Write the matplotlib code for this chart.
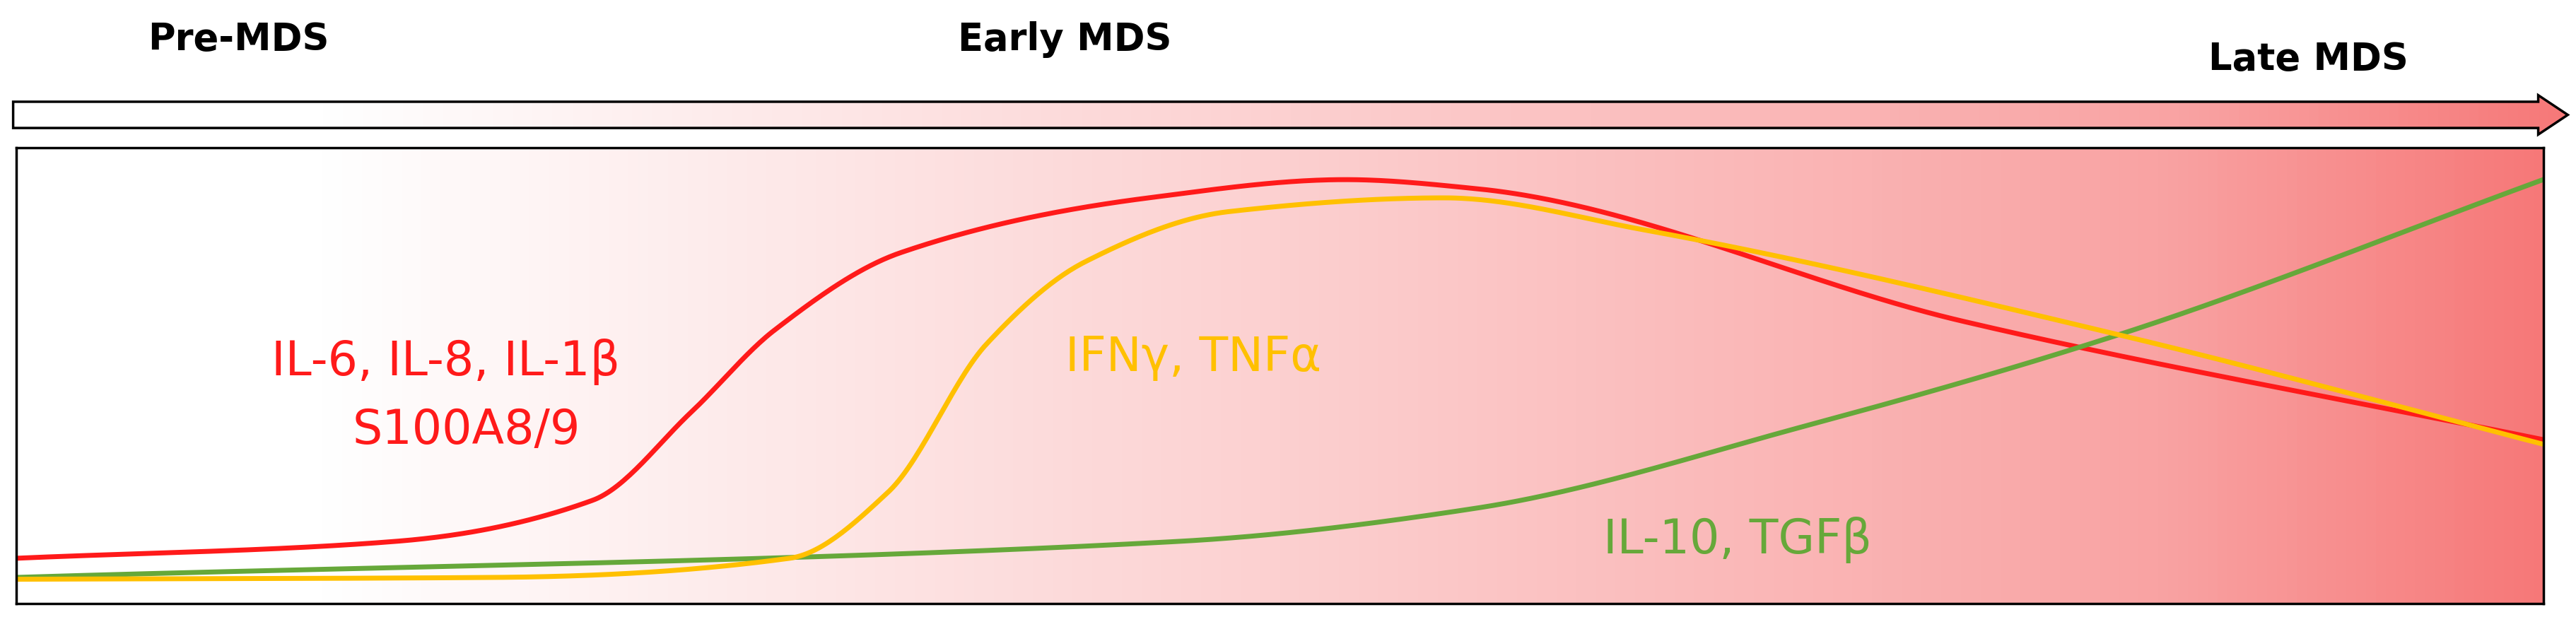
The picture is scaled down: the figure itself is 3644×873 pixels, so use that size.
import numpy as np
import matplotlib.pyplot as plt
from matplotlib.colors import LinearSegmentedColormap
from matplotlib.patches import Polygon

stages = ["Pre-MDS", "Early MDS", "Late MDS"]
red_x = [0, 15, 22.8, 26.7, 30, 35, 44.8, 52.6, 57.8, 77, 100]
red_y = [10, 13.7, 22.7, 42, 60, 77, 89, 93, 91, 62, 36]
yel_x = [0, 18.9, 30.6, 34.5, 38.4, 42.3, 48, 56.5, 64.4, 83.2, 100]
yel_y = [5.4, 5.8, 10, 24.5, 57, 75, 86, 89, 82, 59, 35]
grn_x = [0, 46, 57.8, 70.8, 83.2, 100]
grn_y = [5.8, 13.7, 21, 39, 59, 93]

def pchip(x, y, n=800):
    x = np.asarray(x, float); y = np.asarray(y, float)
    h = np.diff(x); d = np.diff(y) / h
    m = np.zeros_like(y)
    for k in range(1, len(x) - 1):
        if d[k-1] * d[k] > 0:
            w1 = 2*h[k] + h[k-1]; w2 = h[k] + 2*h[k-1]
            m[k] = (w1 + w2) / (w1/d[k-1] + w2/d[k])
    m[0] = d[0]; m[-1] = d[-1]
    xs = np.linspace(x[0], x[-1], n)
    i = np.clip(np.searchsorted(x, xs) - 1, 0, len(h) - 1)
    t = (xs - x[i]) / h[i]
    h00 = 2*t**3 - 3*t**2 + 1; h10 = t**3 - 2*t**2 + t
    h01 = -2*t**3 + 3*t**2; h11 = t**3 - t**2
    ys = h00*y[i] + h10*h[i]*m[i] + h01*y[i+1] + h11*h[i]*m[i+1]
    return xs, ys

fig = plt.figure(figsize=(36.44, 8.73), dpi=100)
cmap = LinearSegmentedColormap.from_list("g", [(0, "#ffffff"), (0.12, "#ffffff"), (0.5, "#fcd0d0"), (0.85, "#f9a3a3"), (1, "#f67878")])
grad = np.linspace(0, 1, 512)[None, :]

ax = fig.add_axes([10/1568, 1-368/376, 1538/1568, 278/376])
ax.imshow(grad, cmap=cmap, extent=[0, 100, 0, 100], aspect="auto", zorder=0)
ax.set_xlim(0, 100); ax.set_ylim(0, 100)
ax.set_xticks([]); ax.set_yticks([])
for s in ax.spines.values():
    s.set_linewidth(2.5); s.set_color("black")
for x, y, c in [(red_x, red_y, "#ff1a1a"), (grn_x, grn_y, "#66a83a"), (yel_x, yel_y, "#ffc000")]:
    sx, sy = pchip(x, y)
    ax.plot(sx, sy, color=c, lw=5)
ax.text(17.0, 53, "IL-6, IL-8, IL-1β", color="#ff1a1a", fontsize=48, ha="center", va="center")
ax.text(17.8, 38, "S100A8/9", color="#ff1a1a", fontsize=48, ha="center", va="center")
ax.text(41.5, 54, "IFNγ, TNFα", color="#ffc000", fontsize=48, ha="left", va="center")
ax.text(62.8, 14, "IL-10, TGFβ", color="#66a83a", fontsize=48, ha="left", va="center")

# arrow
aax = fig.add_axes([0, 0, 1, 1]); aax.axis("off")
pts = [(8, 62), (1545, 62), (1545, 58), (1563, 70), (1545, 82), (1545, 78), (8, 78)]
poly = Polygon(pts, closed=True, facecolor="none", edgecolor="black", lw=2.5, zorder=3)
aax.add_patch(poly)
im = aax.imshow(grad, cmap=cmap, extent=[8, 1563, 82, 58], aspect="auto", zorder=2)
im.set_clip_path(Polygon(pts, closed=True, transform=aax.transData))
aax.set_xlim(0, 1568); aax.set_ylim(376, 0)
fig.text(145/1568, 1-24/376, stages[0], fontsize=38, fontweight="bold", ha="center", va="center")
fig.text(648/1568, 1-24/376, stages[1], fontsize=38, fontweight="bold", ha="center", va="center")
fig.text(1405/1568, 1-36/376, stages[2], fontsize=38, fontweight="bold", ha="center", va="center")
fig.savefig("out.png", dpi=100)
